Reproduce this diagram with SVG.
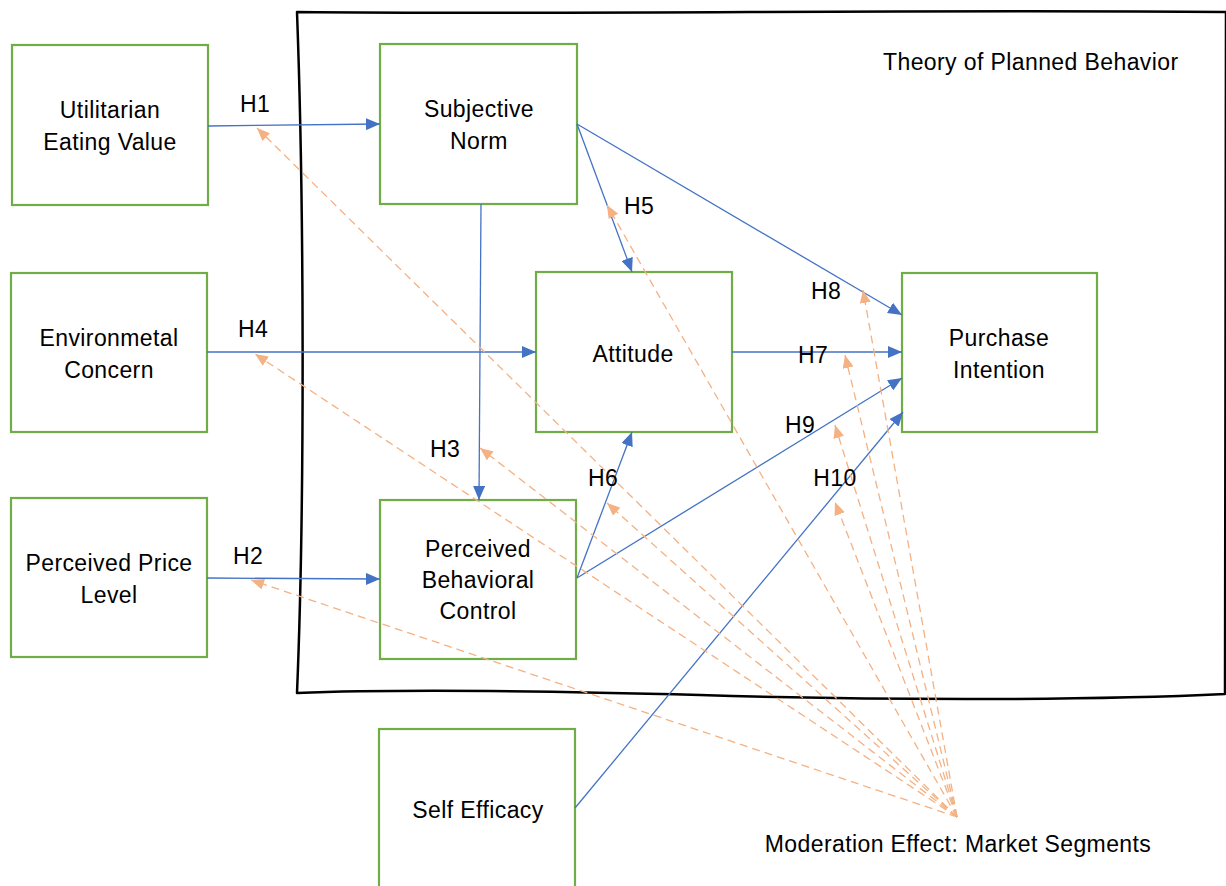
<svg xmlns="http://www.w3.org/2000/svg" width="1226" height="886" viewBox="0 0 1226 886">
<style>
text{font-family:"Liberation Sans",Arial,sans-serif;font-size:23px;letter-spacing:0.4px;fill:#000;}
.node{fill:#fff;stroke:#70AD47;stroke-width:2.2;}
.lbl{text-anchor:middle;}
.blue{stroke:#4472C4;stroke-width:1.3;fill:none;marker-end:url(#ab);}
.dash{stroke:#F4B183;stroke-width:1.3;fill:none;stroke-dasharray:8 5;marker-end:url(#ao);}
</style>
<defs>
<marker id="ab" markerUnits="userSpaceOnUse" markerWidth="14" markerHeight="12" refX="14" refY="6" orient="auto"><path d="M0,0 L14,6 L0,12 Z" fill="#4472C4"/></marker>
<marker id="ao" markerUnits="userSpaceOnUse" markerWidth="13" markerHeight="11" refX="13" refY="5.5" orient="auto"><path d="M0,0 L13,5.5 L0,11 Z" fill="#F4B183"/></marker>
</defs>
<rect width="1226" height="886" fill="#fff"/>
<g id="frame">
<path d="M297,12 C600,15 900,9 1226,12 L1225,694 C1100,700 900,701 700,695 C550,691 400,689 297,693 C305,500 304,200 297,12 Z" fill="none" stroke="#000" stroke-width="2.5" stroke-linejoin="round"/>
<text x="883" y="70">Theory of Planned Behavior</text>
</g>
<g id="node-uev"><rect class="node" x="12" y="45" width="196" height="160"/><text class="lbl" x="110" y="118">Utilitarian</text><text class="lbl" x="110" y="150">Eating Value</text></g>
<g id="node-sn"><rect class="node" x="380" y="44" width="197" height="160"/><text class="lbl" x="479" y="117">Subjective</text><text class="lbl" x="479" y="149">Norm</text></g>
<g id="node-ec"><rect class="node" x="11" y="273" width="196" height="159"/><text class="lbl" x="109" y="346">Environmetal</text><text class="lbl" x="109" y="378">Concern</text></g>
<g id="node-att"><rect class="node" x="536" y="272" width="196" height="160"/><text class="lbl" x="633" y="362">Attitude</text></g>
<g id="node-pi"><rect class="node" x="902" y="273" width="195" height="159"/><text class="lbl" x="999" y="346">Purchase</text><text class="lbl" x="999" y="378">Intention</text></g>
<g id="node-ppl"><rect class="node" x="11" y="498" width="196" height="159"/><text class="lbl" x="109" y="571">Perceived Price</text><text class="lbl" x="109" y="603">Level</text></g>
<g id="node-pbc"><rect class="node" x="380" y="500" width="196" height="159"/><text class="lbl" x="478" y="557">Perceived</text><text class="lbl" x="478" y="588">Behavioral</text><text class="lbl" x="478" y="619">Control</text></g>
<g id="node-se"><rect class="node" x="379" y="729" width="196" height="170"/><text class="lbl" x="478" y="818">Self Efficacy</text></g>
<g id="node-mod"><text class="lbl" x="958" y="852">Moderation Effect: Market Segments</text></g>
<g id="connectors">
<line class="blue" x1="208" y1="126" x2="380" y2="124"/>
<line class="blue" x1="577" y1="124" x2="632" y2="272"/>
<line class="blue" x1="577" y1="124" x2="902" y2="315"/>
<line class="blue" x1="481" y1="204" x2="479" y2="500"/>
<line class="blue" x1="207" y1="352" x2="536" y2="352"/>
<line class="blue" x1="732" y1="352" x2="902" y2="352"/>
<line class="blue" x1="577" y1="578" x2="632" y2="432"/>
<line class="blue" x1="577" y1="578" x2="902" y2="378"/>
<line class="blue" x1="207" y1="578" x2="380" y2="579"/>
<line class="blue" x1="575" y1="808" x2="903" y2="412"/>
<line class="dash" x1="957" y1="817" x2="257" y2="128"/>
<line class="dash" x1="957" y1="817" x2="255" y2="354"/>
<line class="dash" x1="957" y1="817" x2="251" y2="580"/>
<line class="dash" x1="957" y1="817" x2="480" y2="448"/>
<line class="dash" x1="957" y1="817" x2="607" y2="503"/>
<line class="dash" x1="957" y1="817" x2="607" y2="205"/>
<line class="dash" x1="957" y1="817" x2="863" y2="290"/>
<line class="dash" x1="957" y1="817" x2="845" y2="355"/>
<line class="dash" x1="957" y1="817" x2="835" y2="425"/>
<line class="dash" x1="957" y1="817" x2="835" y2="502"/>
</g>
<g id="labels">
<text class="lbl" x="255" y="112">H1</text>
<text class="lbl" x="253" y="337">H4</text>
<text class="lbl" x="248" y="564">H2</text>
<text class="lbl" x="445" y="457">H3</text>
<text class="lbl" x="603" y="486">H6</text>
<text class="lbl" x="639" y="214">H5</text>
<text class="lbl" x="826" y="299">H8</text>
<text class="lbl" x="813" y="363">H7</text>
<text class="lbl" x="800" y="433">H9</text>
<text class="lbl" x="835" y="486">H10</text>
</g>
</svg>
